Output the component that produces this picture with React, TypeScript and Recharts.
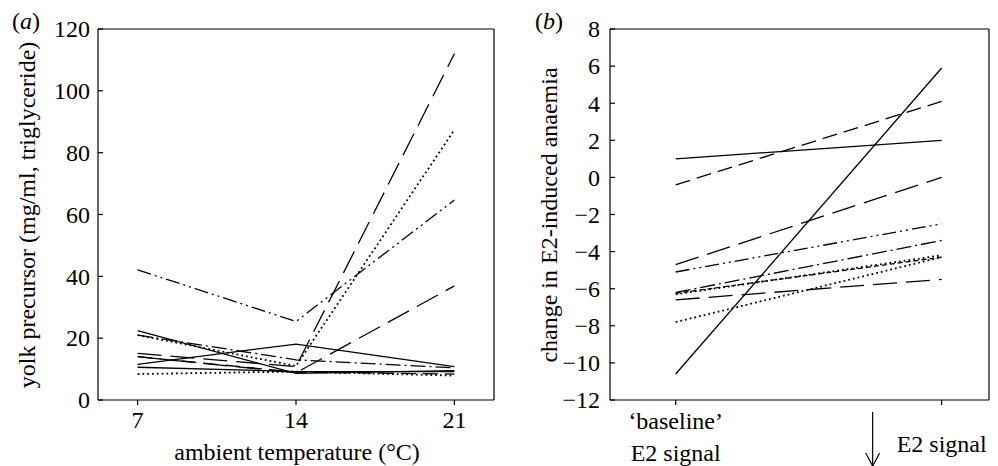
import React from 'react';
import { LineChart, Line, XAxis, YAxis, ReferenceLine } from 'recharts';

// ---------- Panel (a) data ----------
const temperatures = [7, 14, 21];
const yolkTicks = [0, 20, 40, 60, 80, 100, 120];
const yolkDashDotDot = [42.1, 25.4, 64.7];
const yolkLongDashHigh = [15.1, 10.8, 112];
const yolkDottedHigh = [21.0, 11.0, 87.4];
const yolkLongDashMid = [14.0, 8.8, 36.9];
const yolkSolidPeak = [11.5, 18.1, 10.8];
const yolkSolidDrop = [22.4, 8.6, 9.5];
const yolkDashDot = [21.0, 13.0, 10.4];
const yolkSolidLow = [10.6, 9.2, 9.2];
const yolkDottedLow = [8.4, 9.2, 7.9];
const yolkDashedLow = [14.0, 9.0, 8.4];

// ---------- Panel (b) data ----------
const signalPositions = [0, 1];
const signalTickLabels = ['\u2018baseline\u2019|E2 signal', 'E2 signal'];
const anaemiaTicks = [-12, -10, -8, -6, -4, -2, 0, 2, 4, 6, 8];
const anaemiaSolidSteep = [-10.6, 5.9];
const anaemiaSolidFlat = [1.0, 2.0];
const anaemiaDashed = [-0.4, 4.1];
const anaemiaLongDash = [-4.7, 0.0];
const anaemiaDashDotDot = [-5.1, -2.5];
const anaemiaDashDot = [-6.2, -3.4];
const anaemiaShortDash = [-6.25, -4.3];
const anaemiaDottedA = [-6.3, -4.2];
const anaemiaLongDashLow = [-6.6, -5.5];
const anaemiaDottedB = [-7.8, -4.3];

const FONT = 'Liberation Serif, Times New Roman, serif';
const FS = 24;

const DASH = {
  solid: undefined as string | undefined,
  dashDotDot: '14 4 2 4 2 4',
  dashDot: '15 4 2 4',
  longDash: '24 9',
  medDash: '15 7',
  shortDash: '5 3',
  dotted: '1.8 3',
};

const panelASeries = [
  { key: 'a1', values: yolkDashDotDot, dash: DASH.dashDotDot },
  { key: 'a2', values: yolkLongDashHigh, dash: DASH.longDash },
  { key: 'a3', values: yolkDottedHigh, dash: DASH.dotted },
  { key: 'a4', values: yolkLongDashMid, dash: DASH.longDash },
  { key: 'a5', values: yolkSolidPeak, dash: DASH.solid },
  { key: 'a6', values: yolkSolidDrop, dash: DASH.solid },
  { key: 'a7', values: yolkDashDot, dash: DASH.dashDot },
  { key: 'a8', values: yolkSolidLow, dash: DASH.solid },
  { key: 'a9', values: yolkDottedLow, dash: DASH.dotted },
  { key: 'a10', values: yolkDashedLow, dash: DASH.medDash },
];

const panelBSeries = [
  { key: 'b1', values: anaemiaSolidSteep, dash: DASH.solid },
  { key: 'b2', values: anaemiaSolidFlat, dash: DASH.solid },
  { key: 'b3', values: anaemiaDashed, dash: DASH.medDash },
  { key: 'b4', values: anaemiaLongDash, dash: DASH.longDash },
  { key: 'b5', values: anaemiaDashDotDot, dash: DASH.dashDotDot },
  { key: 'b6', values: anaemiaDashDot, dash: DASH.dashDot },
  { key: 'b7', values: anaemiaShortDash, dash: DASH.shortDash },
  { key: 'b8', values: anaemiaDottedA, dash: DASH.dotted },
  { key: 'b9', values: anaemiaLongDashLow, dash: DASH.longDash },
  { key: 'b10', values: anaemiaDottedB, dash: DASH.dotted },
];

const dataA = temperatures.map((t, i) => {
  const row: Record<string, number> = { x: t };
  panelASeries.forEach((s) => (row[s.key] = s.values[i]));
  return row;
});

const dataB = signalPositions.map((p, i) => {
  const row: Record<string, number> = { x: p };
  panelBSeries.forEach((s) => (row[s.key] = s.values[i]));
  return row;
});

const fmtNum = (v: number) => (v < 0 ? '\u2212' + Math.abs(v) : String(v));

const makeYTick = (margin: number) => (props: any) => {
  const { x, y, payload } = props;
  const axisX = x + margin;
  return (
    <g>
      <line x1={axisX} x2={axisX + 5} y1={y} y2={y} stroke="#000" strokeWidth={1.2} />
      <text x={x} y={y + 8.3} textAnchor="end" fontFamily={FONT} fontSize={FS} fill="#000">
        {fmtNum(payload.value)}
      </text>
    </g>
  );
};

const XTickA = (props: any) => {
  const { x, y, payload } = props;
  return (
    <text x={x} y={y + 23} textAnchor="middle" fontFamily={FONT} fontSize={FS} fill="#000">
      {payload.value}
    </text>
  );
};

const XTickB = (props: any) => {
  const { x, y, index } = props;
  const label = signalTickLabels[index] ?? '';
  if (index === 0) {
    const lines = label.split('|');
    return (
      <g>
        <text x={x} y={y + 24} textAnchor="middle" fontFamily={FONT} fontSize={FS} fill="#000">
          {lines[0]}
        </text>
        <text x={x} y={y + 56} textAnchor="middle" fontFamily={FONT} fontSize={FS} fill="#000">
          {lines[1]}
        </text>
      </g>
    );
  }
  const ax = x - 69;
  return (
    <g>
      <line x1={ax} x2={ax} y1={y + 7} y2={y + 61} stroke="#000" strokeWidth={1.2} />
      <polyline
        points={`${ax - 7},${y + 48} ${ax},${y + 61} ${ax + 7},${y + 48}`}
        fill="none"
        stroke="#000"
        strokeWidth={1.2}
      />
      <text x={x} y={y + 47} textAnchor="middle" fontFamily={FONT} fontSize={FS} fill="#000">
        {label}
      </text>
    </g>
  );
};

const PanelALabels = () => (
  <g>
    <text x={12} y={29} fontFamily={FONT} fontSize={FS} fill="#000">
      (<tspan fontStyle="italic">a</tspan>)
    </text>
    <text
      x={35}
      y={215}
      transform="rotate(-90, 35, 215)"
      textAnchor="middle"
      fontFamily={FONT}
      fontSize={FS}
      fill="#000"
    >
      yolk precursor (mg/ml, triglyceride)
    </text>
  </g>
);

const PanelBLabels = () => (
  <g>
    <text x={35} y={29} fontFamily={FONT} fontSize={FS} fill="#000">
      (<tspan fontStyle="italic">b</tspan>)
    </text>
    <text
      x={57}
      y={215}
      transform="rotate(-90, 57, 215)"
      textAnchor="middle"
      fontFamily={FONT}
      fontSize={FS}
      fill="#000"
    >
      change in E2-induced anaemia
    </text>
  </g>
);

export default function App() {
  return (
    <div style={{ position: 'absolute', left: 0, top: 0, width: 998, height: 466, background: '#fff' }}>
      <div style={{ position: 'absolute', left: 0, top: 0 }}>
        <LineChart width={500} height={466} data={dataA} margin={{ top: 29, right: 6, left: 0, bottom: 0 }}>
          <XAxis
            dataKey="x"
            type="number"
            domain={[5.25, 22.75]}
            ticks={temperatures}
            height={66}
            axisLine={{ stroke: '#000', strokeWidth: 1.2 }}
            tickLine={{ stroke: '#000', strokeWidth: 1.2 }}
            tickSize={5}
            tickMargin={0}
            tick={<XTickA />}
            label={{
              content: () => (
                <text x={297} y={460} textAnchor="middle" fontFamily={FONT} fontSize={FS} fill="#000">
                  ambient temperature (°C)
                </text>
              ),
            }}
          />
          <YAxis
            type="number"
            domain={[0, 120]}
            ticks={yolkTicks}
            width={98}
            axisLine={{ stroke: '#000', strokeWidth: 1.2 }}
            tickLine={false}
            tickSize={0}
            tickMargin={8}
            tick={makeYTick(8)}
            label={{ content: () => <PanelALabels /> }}
          />
          <ReferenceLine y={120} stroke="#000" strokeWidth={1.2} />
          <ReferenceLine x={22.75} stroke="#000" strokeWidth={1.2} />
          {panelASeries.map((s) => (
            <Line
              key={s.key}
              dataKey={s.key}
              stroke="#000"
              strokeWidth={s.dash === DASH.dotted ? 1.8 : 1.3}
              strokeDasharray={s.dash}
              dot={false}
              isAnimationActive={false}
            />
          ))}
        </LineChart>
      </div>
      <div style={{ position: 'absolute', left: 500, top: 0 }}>
        <LineChart width={498} height={466} data={dataB} margin={{ top: 29, right: 9, left: 0, bottom: 0 }}>
          <XAxis
            dataKey="x"
            type="number"
            domain={[-0.247, 1.178]}
            ticks={signalPositions}
            height={66}
            axisLine={{ stroke: '#000', strokeWidth: 1.2 }}
            tickLine={{ stroke: '#000', strokeWidth: 1.2 }}
            tickSize={5}
            tickMargin={0}
            tick={<XTickB />}
          />
          <YAxis
            type="number"
            domain={[-12, 8]}
            ticks={anaemiaTicks}
            width={110}
            axisLine={{ stroke: '#000', strokeWidth: 1.2 }}
            tickLine={false}
            tickSize={0}
            tickMargin={10}
            tick={makeYTick(10)}
            label={{ content: () => <PanelBLabels /> }}
          />
          <ReferenceLine y={8} stroke="#000" strokeWidth={1.2} />
          <ReferenceLine x={1.178} stroke="#000" strokeWidth={1.2} />
          {panelBSeries.map((s) => (
            <Line
              key={s.key}
              dataKey={s.key}
              stroke="#000"
              strokeWidth={s.dash === DASH.dotted ? 1.8 : 1.3}
              strokeDasharray={s.dash}
              dot={false}
              isAnimationActive={false}
            />
          ))}
        </LineChart>
      </div>
    </div>
  );
}
